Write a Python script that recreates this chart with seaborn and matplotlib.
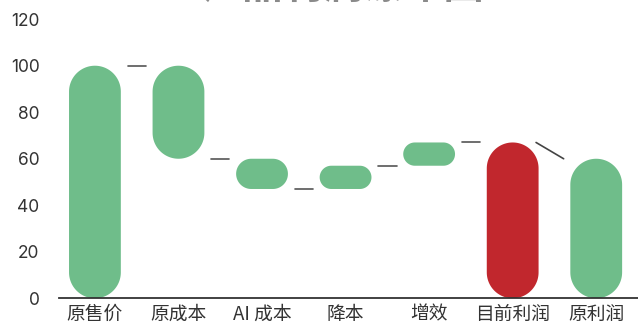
import matplotlib
matplotlib.use("Agg")
import matplotlib.pyplot as plt
import seaborn as sns
import numpy as np
import pandas as pd
from matplotlib.patches import Polygon

# waterfall data
categories = ["原售价", "原成本", "AI 成本", "降本", "增效", "目前利润", "原利润"]
bar_low = [0, 60, 47, 47, 57, 0, 0]
bar_high = [100, 100, 60, 57, 67, 67, 60]
connector_levels = [100, 60, 47, 57, 67]
last_step = (67, 60)
bar_colors = ["#6fbd8a", "#6fbd8a", "#6fbd8a", "#6fbd8a", "#6fbd8a", "#c1272d", "#6fbd8a"]
y_ticks = [0, 20, 40, 60, 80, 100, 120]

sns.set_theme(style="white")
plt.rcParams["font.family"] = ["Noto Sans CJK SC", "DejaVu Sans"]

W, H = 638, 324
fig = plt.figure(figsize=(W / 100, H / 100), dpi=100)
ax = fig.add_axes([59 / W, 25.7 / H, 579 / W, 279.1 / H])

df = pd.DataFrame({
    "item": categories,
    "span": [h - l for l, h in zip(bar_low, bar_high)],
})
sns.barplot(data=df, x="item", y="span", hue="item", palette=bar_colors,
            saturation=1, legend=False, width=0.62, ax=ax)

ax.set_xlim(-0.43, 6.5)
ax.set_ylim(0, 120)
ax.set_yticks(y_ticks)
ax.set_xlabel("")
ax.set_ylabel("")

# px per data unit, so the caps come out as real half circles on screen
x_px = ax.transData.transform((1, 0))[0] - ax.transData.transform((0, 0))[0]
y_px = ax.transData.transform((0, 1))[1] - ax.transData.transform((0, 0))[1]


def pill(x0, y0, w, h):
    r = min(w * x_px, h * y_px) / 2
    rx, ry = r / x_px, r / y_px
    centers = [(x0 + w - rx, y0 + ry), (x0 + w - rx, y0 + h - ry),
               (x0 + rx, y0 + h - ry), (x0 + rx, y0 + ry)]
    starts = [-90, 0, 90, 180]
    pts = []
    for (cx, cy), a in zip(centers, starts):
        t = np.radians(np.linspace(a, a + 90, 30))
        pts.append(np.column_stack([cx + rx * np.cos(t), cy + ry * np.sin(t)]))
    return np.vstack(pts)


# swap the plain bars for pill shaped ones
patches = sorted(ax.patches, key=lambda p: p.get_x())
for p, low in zip(patches, bar_low):
    x0, w, h = p.get_x(), p.get_width(), p.get_height()
    fc = p.get_facecolor()
    p.remove()
    ax.add_patch(Polygon(pill(x0, low, w, h), closed=True, fc=fc, ec="none"))

# connectors between bars
for i, lvl in enumerate(connector_levels):
    ax.plot([i + 0.39, i + 0.61], [lvl, lvl], color="#555555", lw=1.2)
ax.plot([5.28, 5.61], list(last_step), color="#444444", lw=1.2)

for side in ["left", "top", "right"]:
    ax.spines[side].set_visible(False)
ax.spines["bottom"].set_color("#333333")
ax.spines["bottom"].set_linewidth(1.3)
ax.spines["bottom"].set_zorder(3)

ax.tick_params(axis="both", length=0, colors="#333333")
ax.tick_params(axis="y", pad=14, labelsize=12.5)
ax.tick_params(axis="x", pad=4, labelsize=13.5)
for lab in ax.get_yticklabels():
    lab.set_family(["Inter", "DejaVu Sans"])

fig.text(0.537, 1.008, "产品利润瀑布图", ha="center", va="baseline",
         fontsize=29, fontweight="bold", color="#8a8a8a")

fig.savefig("out.png", dpi=100)
